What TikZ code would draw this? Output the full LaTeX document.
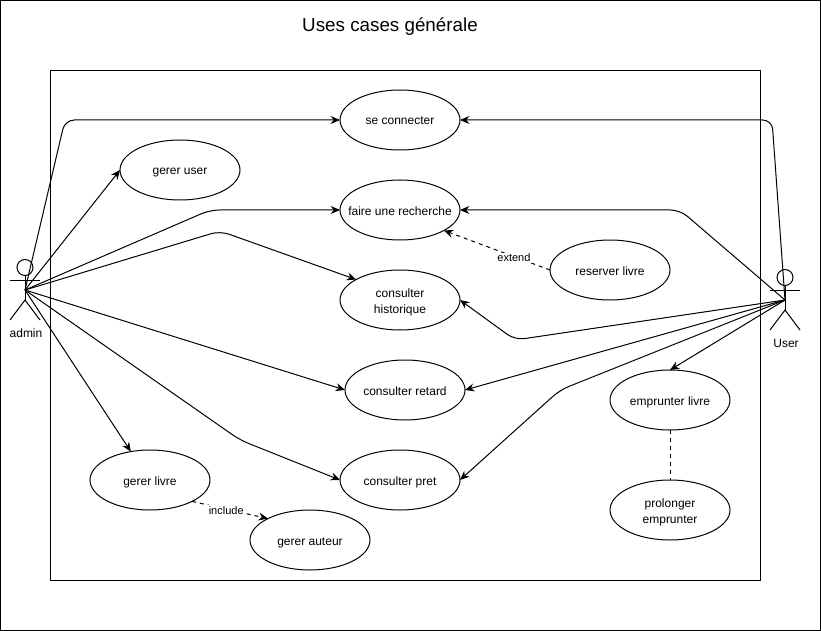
\documentclass[tikz,border=0pt]{standalone}
\usepackage{fontspec}
\setmainfont{Liberation Sans}
\usetikzlibrary{arrows.meta, positioning, shapes.geometric}

\newcommand{\topgap}{\rule{0pt}{9.5pt}}

\tikzset{
  usecase/.style={ellipse,draw,line width=0.75pt,minimum width=90pt,minimum height=45pt,inner sep=0pt,outer sep=0pt,align=center,font=\fontsize{9}{12}\selectfont},
  oneline/.style={usecase,text height=9pt,text depth=1.5pt},
  assoc/.style={-{Stealth[length=7pt,width=6pt]},line width=0.75pt,rounded corners=7pt},
  depend/.style={-{Stealth[length=7pt,width=6pt]},line width=0.75pt,dashed},
  lbl/.style={fill=white,inner sep=1pt,yshift=-1pt,font=\fontsize{8.25}{10}\selectfont},
  actorname/.style={inner sep=0pt,font=\fontsize{9}{12}\selectfont},
  stick/.style={line width=0.75pt}
}

\begin{document}
\begin{tikzpicture}[x=0.75pt,y=-0.75pt]
\useasboundingbox (0,0) rectangle (821,631);
\draw[line width=0.75pt] (0.5,0.5) rectangle (820,630);
\node[font=\fontsize{14.1}{16}\selectfont] (T) at (390,26.5) {Uses cases générale};
\draw[line width=0.75pt] (50.5,70.5) rectangle (760.5,580.5);

% cas au centre
\node[oneline] (SC) at (400,120) {se connecter};
\node[oneline, below=22.5pt of SC] (FR) {\makebox[60pt]{faire une recherche}};
\node[usecase, below=22.5pt of FR] (CH) {\topgap consulter\\historique};
\node[oneline, below=22.5pt of CH, xshift=3.75pt] (CR) {consulter retard};
\node[oneline, below=22.5pt of CR, xshift=-3.75pt] (CP) {consulter pret};

% cas a gauche
\node[oneline] (GU) at (180,170) {gerer user};
\node[oneline] (GL) at (150,480) {gerer livre};
\node[oneline] (GA) at (310,540) {gerer auteur};

% cas a droite
\node[oneline] (RL) at (610,270) {reserver livre};
\node[oneline] (EL) at (670,400) {emprunter livre};
\node[usecase, below=37.5pt of EL] (PE) {\topgap prolonger\\emprunter};

% acteur admin
\node[circle,draw,stick,minimum size=12pt,inner sep=0pt] (AH) at (25,267.5) {};
\coordinate (AN) at (25,290);
\coordinate (AB) at (25,300);
\draw[stick] (AH) -- (AB);
\draw[stick] (10,280) -- (40,280);
\draw[stick] (10,320) -- (AB) -- (40,320);
\node[actorname] (AL) at (26,333) {admin};

% acteur user
\node[circle,draw,stick,minimum size=12pt,inner sep=0pt] (UH) at (785,277.5) {};
\coordinate (UN) at (785,300);
\coordinate (UB) at (785,310);
\draw[stick] (UH) -- (UB);
\draw[stick] (770,290) -- (800,290);
\draw[stick] (770,330) -- (UB) -- (800,330);
\node[actorname] (UL) at (786,343) {User};

\coordinate (A1) at (65,120);
\coordinate (A2) at (210,210);
\coordinate (A3) at (220,231);
\coordinate (A4) at (240,440);
\coordinate (U1) at (772,120);
\coordinate (U2) at (680,210);
\coordinate (U3) at (515,340);
\coordinate (U4) at (560,390);

\draw[assoc] (AN) -- (A1) -- (SC.west);
\draw[assoc] (AN) -- (GU.west);
\draw[assoc] (AN) -- (A2) -- (FR.west);
\draw[assoc] (AN) -- (A3) -- (CH.155);
\draw[assoc] (AN) -- (CR.west);
\draw[assoc] (AN) -- (A4) -- (CP.west);
\draw[assoc] (AN) -- (GL.124);

\draw[assoc] (UN) -- (U1) -- (SC.east);
\draw[assoc] (UN) -- (U2) -- (FR.east);
\draw[assoc] (UN) -- (U3) -- (CH.east);
\draw[assoc] (UN) -- (CR.east);
\draw[assoc] (UN) -- (U4) -- (CP.east);
\draw[assoc] (UN) -- (EL.north);

\draw[depend] (RL.west) -- node[lbl,pos=0.34] (EX) {extend} (FR.-25);
\draw[depend] (GL.-27) -- node[lbl,pos=0.45] (IN) {include} (GA.153);
\draw[line width=0.75pt,dashed] (EL) -- (PE);
\end{tikzpicture}
\end{document}
